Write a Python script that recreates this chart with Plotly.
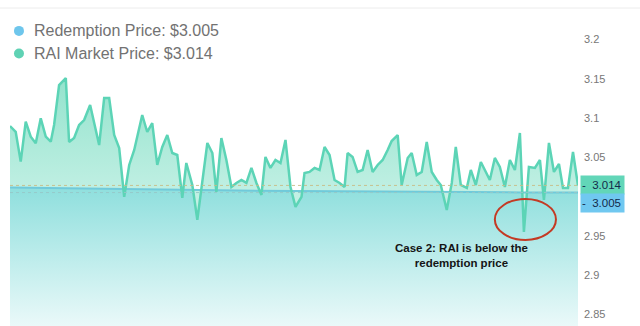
import plotly.graph_objects as go

# Sample times (hours) and prices
market_t = [11, 16.7, 21.7, 26.7, 31.7, 36.7, 41.7, 46.7, 51.7, 55, 60, 66.7, 70, 75, 80, 85, 91, 95, 100,
            105, 110, 115, 120, 125, 130, 135, 143, 148, 153, 158, 163, 168, 173, 178, 183, 187, 193, 198,
            208, 213, 217, 222, 227, 232, 237, 242, 247, 252, 257, 262, 266, 271, 276, 281, 286, 291, 296,
            302, 305, 310, 315, 320, 325, 330, 335, 340, 345, 348, 353, 358, 363, 368, 373, 378, 383, 388,
            392, 398, 402, 408, 412, 417, 422, 427, 432, 437, 441, 447, 452, 456, 461, 467, 471, 476, 481,
            485, 490, 495, 500, 505, 510, 515, 520, 524, 529, 535, 540, 544, 549, 554, 559, 563, 568, 573, 578]
market_price = [3.0897, 3.0824, 3.0443, 3.0952, 3.0761, 3.0677, 3.0995, 3.0761, 3.0697, 3.091, 3.1419, 3.1508,
                3.0693, 3.0744, 3.091, 3.0973, 3.1164, 3.0935, 3.0655, 3.1253, 3.1253, 3.0782, 3.0617, 2.9994,
                3.0401, 3.0592, 3.1037, 3.0821, 3.0935, 3.0401, 3.063, 3.0782, 3.0553, 3.0528, 2.9981, 3.0426,
                3.0146, 2.9701, 3.0681, 3.0553, 3.0057, 3.0744, 3.0464, 3.0121, 3.0172, 3.021, 3.0172, 3.0363,
                3.0172, 3.0019, 3.0503, 3.0363, 3.0464, 3.0426, 3.0719, 3.0121, 2.9866, 2.9994, 3.0299, 3.0312,
                3.0363, 3.0337, 3.063, 3.0528, 3.021, 3.0172, 3.0121, 3.0553, 3.0503, 3.0312, 3.0337, 3.0592,
                3.0312, 3.0401, 3.0464, 3.0592, 3.0706, 3.0782, 3.0146, 3.049, 3.0553, 3.0274, 3.0312, 3.0693,
                3.0312, 3.021, 3.0146, 2.9828, 3.0172, 3.063, 3.0146, 3.0108, 3.0337, 3.0146, 3.0439, 3.0337,
                3.021, 3.049, 3.0375, 3.0121, 3.0464, 3.0337, 3.0808, 2.9548, 3.0375, 3.0363, 3.0464, 2.9955,
                3.0681, 3.0312, 3.0413, 3.0108, 3.0108, 3.0566, 3.014]

redemption_t = [11, 68, 125, 182, 239, 296, 352, 409, 466, 522, 578]
redemption_price = [3.0115, 3.0103, 3.0092, 3.0083, 3.0076, 3.0069, 3.0063, 3.0058, 3.0054, 3.0051, 3.005]

tick_vals = [2.85, 2.9, 2.95, 3.05, 3.1, 3.15, 3.2]
tick_text = ["2.85", "2.9", "2.95", "3.05", "3.1", "3.15", "3.2"]

Y_MIN, Y_MAX = 2.835, 3.24
MARKET_LINE = "rgb(92,212,182)"
REDEMPTION_LINE = "rgb(112,202,218)"
MARKET_DOT = "rgb(95,210,180)"
REDEMPTION_DOT = "rgb(110,198,236)"
TEXT_GRAY = "#727272"

fig = go.Figure()

# Redemption price with its fill down to the bottom of the plot
fig.add_trace(go.Scatter(
    x=redemption_t, y=redemption_price, mode="lines",
    line=dict(color=REDEMPTION_LINE, width=2),
    fill="tozeroy",
    fillgradient=dict(type="vertical", start=Y_MIN, stop=redemption_price[-1],
                      colorscale=[[0, "rgb(234,249,249)"], [1, "rgb(146,224,222)"]]),
    hoverinfo="skip", showlegend=False,
))

# Market price, filled against the redemption price
fig.add_trace(go.Scatter(
    x=market_t, y=market_price, mode="lines",
    line=dict(color=MARKET_LINE, width=2.5),
    fill="tonexty",
    fillgradient=dict(type="vertical", start=3.0, stop=3.15,
                      colorscale=[[0, "rgb(194,240,228)"], [1, "rgb(148,227,205)"]]),
    hoverinfo="skip", showlegend=False,
))

last_market = market_price[-1]
last_redemption = redemption_price[-1]

shapes = [
    # reference levels for the latest prices
    dict(type="line", xref="paper", x0=0, x1=1, yref="y", y0=last_market, y1=last_market,
         line=dict(color="rgba(200,190,135,0.9)", width=1, dash="dot"), layer="above"),
    dict(type="line", xref="paper", x0=0, x1=1, yref="y", y0=last_redemption, y1=last_redemption,
         line=dict(color="rgba(150,200,200,0.9)", width=1, dash="dot"), layer="above"),
    # thin top border
    dict(type="line", xref="paper", x0=-0.02, x1=1.11, yref="paper", y0=1.0, y1=1.0,
         line=dict(color="#ececec", width=1)),
]

# Ring around the dip below the redemption price
dip_i = market_price.index(min(market_price))
dip_t, dip_p = market_t[dip_i], market_price[dip_i]
shapes.append(dict(type="circle", xref="x", yref="y",
                   x0=dip_t - 29, x1=dip_t + 32, y0=dip_p - 0.0102, y1=dip_p + 0.042,
                   line=dict(color="rgb(196,58,36)", width=2), layer="above"))

# Legend dots
for yp, col in [(0.928, REDEMPTION_DOT), (0.857, MARKET_DOT)]:
    shapes.append(dict(type="circle", xref="paper", yref="paper", xsizemode="pixel", ysizemode="pixel",
                       xanchor=0.0158, yanchor=yp, x0=-5, x1=5, y0=-5, y1=5,
                       fillcolor=col, line=dict(width=0)))

annotations = [
    dict(xref="paper", yref="paper", x=0.039, y=0.928, xanchor="left", yanchor="middle", showarrow=False,
         text=f"Redemption Price: ${last_redemption:.3f}",
         font=dict(family="Liberation Sans, Arial", size=16, color=TEXT_GRAY)),
    dict(xref="paper", yref="paper", x=0.039, y=0.857, xanchor="left", yanchor="middle", showarrow=False,
         text=f"RAI Market Price: ${last_market:.3f}",
         font=dict(family="Liberation Sans, Arial", size=16, color=TEXT_GRAY)),
    # latest-value badges on the price axis
    dict(xref="paper", yref="y", x=1, y=last_market, xanchor="left", yanchor="middle", xshift=2,
         showarrow=False, text=f"-  {last_market:.3f}", align="left", width=41, height=16,
         bgcolor="rgb(98,214,184)", font=dict(family="Liberation Sans, Arial", size=11.5, color="#13294b")),
    dict(xref="paper", yref="y", x=1, y=last_redemption, xanchor="left", yanchor="middle", xshift=2, yshift=-10,
         showarrow=False, text=f"-  {last_redemption:.3f}", align="left", width=41, height=16,
         bgcolor="rgb(112,200,240)", font=dict(family="Liberation Sans, Arial", size=11.5, color="#13294b")),
    dict(xref="x", yref="y", x=462, y=2.9243, showarrow=False, align="center",
         text="<b>Case 2: RAI is below the<br>redemption price</b>",
         font=dict(family="Liberation Sans, Arial", size=11.5, color="#151515")),
]

fig.update_layout(
    width=640, height=326,
    margin=dict(l=10, r=62, t=8, b=0),
    paper_bgcolor="white", plot_bgcolor="white",
    showlegend=False,
    shapes=shapes, annotations=annotations,
    xaxis=dict(range=[11, 578], visible=False, fixedrange=True),
    yaxis=dict(range=[Y_MIN, Y_MAX], side="right", tickvals=tick_vals, ticktext=tick_text,
               showgrid=False, zeroline=False, showline=False, ticks="", ticklabelstandoff=5,
               tickfont=dict(family="Liberation Sans, Arial", size=11, color="#777777")),
)

fig.write_html("out.html")
